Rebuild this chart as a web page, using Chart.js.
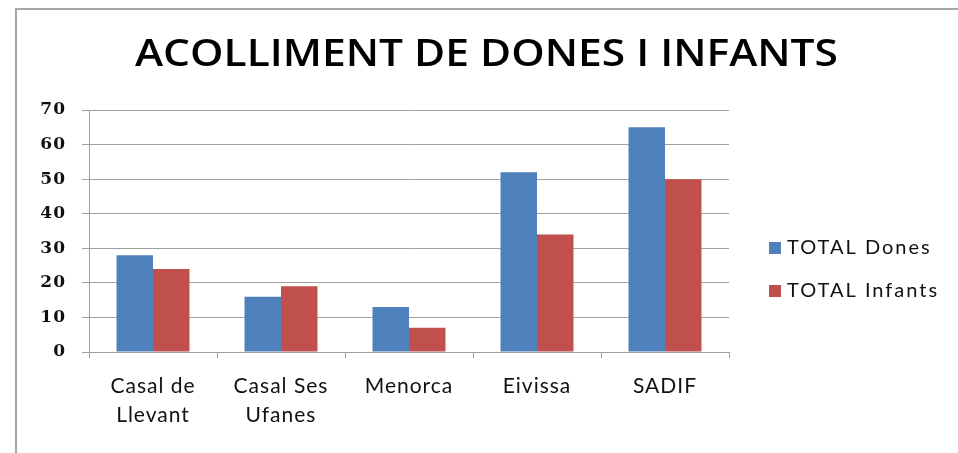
<!DOCTYPE html>
<html><head><meta charset="utf-8">
<script src="https://cdn.jsdelivr.net/npm/chart.js@4/dist/chart.umd.min.js"></script>
<style>
html,body{margin:0;padding:0;background:#fff;width:958px;height:453px;overflow:hidden}
#wrap{position:absolute;left:0;top:0;width:958px;height:453px}
</style></head>
<body><div id="wrap"><canvas id="c" width="958" height="453"></canvas></div>
<script>
const chartTitle = 'ACOLLIMENT DE DONES I INFANTS';
const categories = [['Casal de','Llevant'], ['Casal Ses','Ufanes'], 'Menorca', 'Eivissa', 'SADIF'];
const seriesNames = ['TOTAL Dones', 'TOTAL Infants'];
const totalDones = [28, 16, 13, 52, 65];
const totalInfants = [24, 19, 7, 34, 50];
const yTicks = [0, 10, 20, 30, 40, 50, 60, 70];
const seriesColors = ['#4F81BD', '#C0504D'];

const GRID = '#a0a0a0';

const framePlugin = {
  id: 'frame',
  beforeDraw(chart) {
    const ctx = chart.ctx;
    ctx.save();
    ctx.fillStyle = '#fff';
    ctx.fillRect(0, 0, chart.width, chart.height);
    ctx.strokeStyle = '#a6a6a6';
    ctx.lineWidth = 2;
    ctx.beginPath();
    ctx.moveTo(16, chart.height);
    ctx.lineTo(16, 9);
    ctx.lineTo(chart.width, 9);
    ctx.stroke();
    ctx.restore();
    ctx.letterSpacing = '1px';
  }
};

const titlePlugin = {
  id: 'bigTitle',
  afterDraw(chart) {
    const ctx = chart.ctx;
    ctx.save();
    ctx.letterSpacing = '0px';
    ctx.font = '600 38px "Open Sans"';
    ctx.fillStyle = '#000';
    ctx.textBaseline = 'alphabetic';
    ctx.textAlign = 'left';
    const w = ctx.measureText(chartTitle).width;
    const sx = 703 / w;
    ctx.translate(135, 66);
    ctx.scale(sx, 1);
    ctx.fillText(chartTitle, 0, 0);
    ctx.restore();
  }
};

const legendPlugin = {
  id: 'sideLegend',
  afterDraw(chart) {
    const ctx = chart.ctx;
    ctx.save();
    ctx.letterSpacing = '2px';
    ctx.font = '20px Lato';
    ctx.textBaseline = 'middle';
    ctx.textAlign = 'left';
    chart.data.datasets.forEach((ds, i) => {
      const cy = 248 + i * 43;
      ctx.fillStyle = ds.backgroundColor;
      ctx.fillRect(769, cy - 6, 12, 12);
      ctx.fillStyle = '#111';
      ctx.fillText(ds.label, 787, cy);
    });
    ctx.restore();
  }
};

new Chart(document.getElementById('c'), {
  type: 'bar',
  data: {
    labels: categories,
    datasets: [
      { label: seriesNames[0], data: totalDones, backgroundColor: seriesColors[0] },
      { label: seriesNames[1], data: totalInfants, backgroundColor: seriesColors[1] }
    ]
  },
  options: {
    responsive: false,
    maintainAspectRatio: false,
    animation: false,
    devicePixelRatio: 1,
    layout: { padding: { left: 0, right: 229, top: 110, bottom: 0 } },
    datasets: { bar: { categoryPercentage: 0.57, barPercentage: 1.0 } },
    plugins: { legend: { display: false }, title: { display: false }, tooltip: { enabled: false } },
    scales: {
      x: {
        afterFit(scale) { scale.height = 101; },
        grid: { drawOnChartArea: false, drawTicks: true, tickLength: 6, color: GRID, offset: true },
        border: { display: true, color: GRID, width: 1 },
        ticks: { font: { family: 'Lato', size: 21, lineHeight: 1.36 }, color: '#111', padding: 14, maxRotation: 0, autoSkip: false }
      },
      y: {
        min: yTicks[0],
        max: yTicks[yTicks.length - 1],
        afterFit(scale) { scale.width = 89; },
        grid: { color: GRID, tickLength: 7, drawTicks: true },
        border: { display: true, color: GRID, width: 1 },
        ticks: { stepSize: yTicks[1] - yTicks[0], font: { family: 'DejaVu Serif', size: 17, weight: 'bold' }, color: '#111', padding: 16 }
      }
    }
  },
  plugins: [framePlugin, titlePlugin, legendPlugin]
});
</script>
</body></html>
